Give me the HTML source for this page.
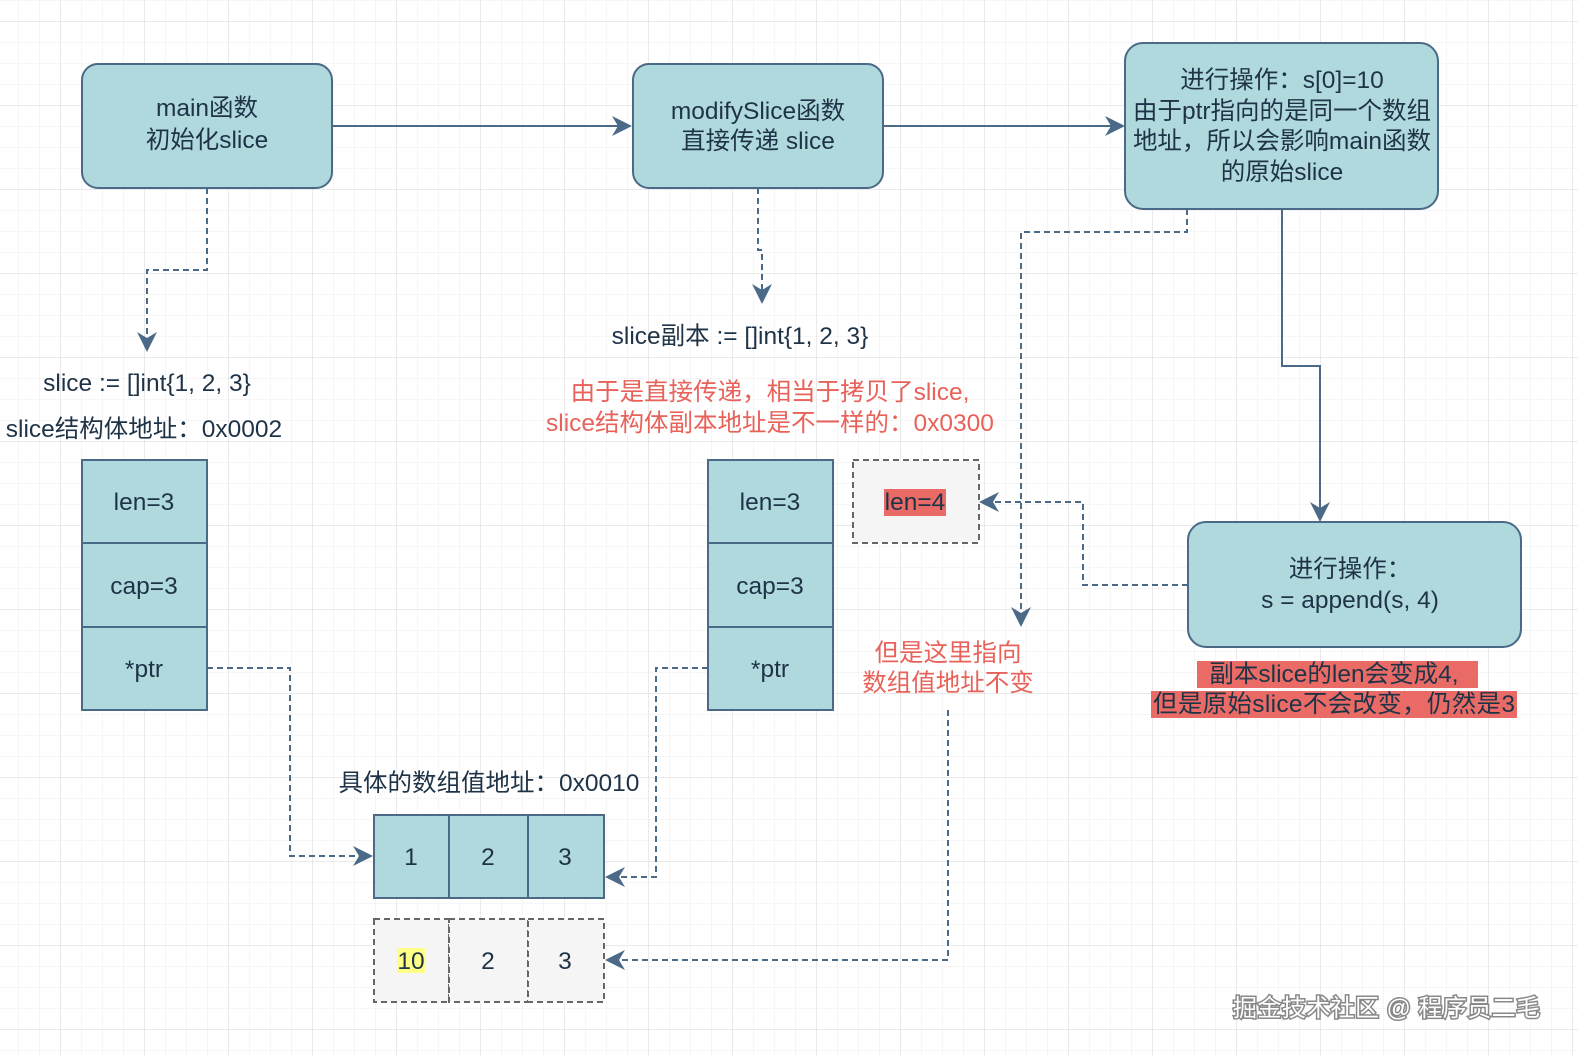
<!DOCTYPE html>
<html><head><meta charset="utf-8"><style>
html,body{margin:0;padding:0;background:#fff;}
svg{display:block;}
text{font-family:"Liberation Sans","Noto Sans CJK SC",sans-serif;font-size:24.5px;fill:#1f3347;}
.r{fill:#e8625a;}
</style></head><body>
<svg width="1578" height="1056" viewBox="0 0 1578 1056" xmlns="http://www.w3.org/2000/svg">
<defs>
<pattern id="g1" x="18" y="0" width="21" height="21" patternUnits="userSpaceOnUse"><path d="M0 0V21M0 0H21" stroke="#ececec" stroke-width="1" fill="none"/></pattern>
<pattern id="g2" x="60" y="21" width="84" height="84" patternUnits="userSpaceOnUse"><path d="M0 0V84M0 0H84" stroke="#d4d4d4" stroke-width="1" fill="none"/></pattern>
<marker id="b" viewBox="0 0 10 10" refX="9" refY="5" markerWidth="20" markerHeight="20" orient="auto" markerUnits="userSpaceOnUse"><path d="M0 0L10 5L0 10L3 5Z" fill="#4a6a87"/></marker>
</defs>
<rect width="1578" height="1056" fill="url(#g1)"/>
<rect width="1578" height="1056" fill="url(#g2)"/>
<g stroke="#4a6a87" stroke-width="2" fill="#b0d9de">
<rect x="82" y="64" width="250" height="124" rx="16"/>
<rect x="633" y="64" width="250" height="124" rx="16"/>
<rect x="1125" y="43" width="313" height="166" rx="18"/>
<rect x="1188" y="522" width="333" height="125" rx="18"/>
<rect x="82" y="460" width="125" height="83"/><rect x="82" y="543" width="125" height="84"/><rect x="82" y="627" width="125" height="83"/>
<rect x="708" y="460" width="125" height="83"/><rect x="708" y="543" width="125" height="84"/><rect x="708" y="627" width="125" height="83"/>
<rect x="374" y="815" width="75" height="83"/><rect x="449" y="815" width="79" height="83"/><rect x="528" y="815" width="76" height="83"/>
</g>
<g stroke="#666" stroke-width="2" fill="#f5f5f5" stroke-dasharray="6 4">
<rect x="853" y="460" width="126" height="83"/>
<rect x="374" y="919" width="75" height="83"/><rect x="449" y="919" width="79" height="83"/><rect x="528" y="919" width="76" height="83"/>
</g>
<g stroke="#4a6a87" stroke-width="2" fill="none">
<path d="M332 126H630" marker-end="url(#b)"/>
<path d="M883 126H1123" marker-end="url(#b)"/>
<path d="M1282 209V366H1320V520" marker-end="url(#b)"/>
</g>
<g stroke="#4a6a87" stroke-width="2" fill="none" stroke-dasharray="6 4">
<path d="M207 188V270H147V350" marker-end="url(#b)"/>
<path d="M758 188V250H762V302" marker-end="url(#b)"/>
<path d="M1187 209V232H1021V625" marker-end="url(#b)"/>
<path d="M1188 585H1083V502H981" marker-end="url(#b)"/>
<path d="M207 668H290V856H371" marker-end="url(#b)"/>
<path d="M708 668H656V877H607" marker-end="url(#b)"/>
<path d="M948 710V960H607" marker-end="url(#b)"/>
</g>
<g text-anchor="middle">
<text x="207" y="116">main函数</text>
<text x="207" y="148">初始化slice</text>
<text x="758" y="119">modifySlice函数</text>
<text x="758" y="149">直接传递 slice</text>
<text x="1282" y="88">进行操作：s[0]=10</text>
<text x="1282" y="119">由于ptr指向的是同一个数组</text>
<text x="1282" y="149">地址，所以会影响main函数</text>
<text x="1282" y="180">的原始slice</text>
<text x="1350" y="577">进行操作：</text>
<text x="1350" y="608">s = append(s, 4)</text>
<text x="147" y="391">slice := []int{1, 2, 3}</text>
<text x="144" y="437">slice结构体地址：0x0002</text>
<text x="740" y="344">slice副本 := []int{1, 2, 3}</text>
<text x="770" y="400" class="r">由于是直接传递，相当于拷贝了slice,</text>
<text x="770" y="431" class="r">slice结构体副本地址是不一样的：0x0300</text>
<text x="144" y="510">len=3</text><text x="144" y="594">cap=3</text><text x="144" y="677">*ptr</text>
<text x="770" y="510">len=3</text><text x="770" y="594">cap=3</text><text x="770" y="677">*ptr</text>
<text x="948" y="661" class="r">但是这里指向</text>
<text x="948" y="691" class="r">数组值地址不变</text>
<text x="489" y="791">具体的数组值地址：0x0010</text>
<text x="411" y="865">1</text><text x="488" y="865">2</text><text x="565" y="865">3</text>
</g>
<rect x="884" y="489" width="62" height="27" fill="#ea6b66"/>
<text x="915" y="510" text-anchor="middle">len=4</text>
<rect x="1197" y="661" width="281" height="27" fill="#ea6b66"/>
<rect x="1151" y="691" width="366" height="27" fill="#ea6b66"/>
<text x="1334" y="682" text-anchor="middle">副本slice的len会变成4,</text>
<text x="1334" y="712" text-anchor="middle" textLength="362">但是原始slice不会改变，仍然是3</text>
<rect x="397" y="948" width="28" height="25" fill="#ffff88"/>
<g text-anchor="middle"><text x="411" y="969">10</text><text x="488" y="969">2</text><text x="565" y="969">3</text></g>
<text x="1233" y="1016" textLength="307" style="fill:#fff;stroke:#888;stroke-width:3;paint-order:stroke;font-size:24px">掘金技术社区 @ 程序员二毛</text>
</svg>
</body></html>
